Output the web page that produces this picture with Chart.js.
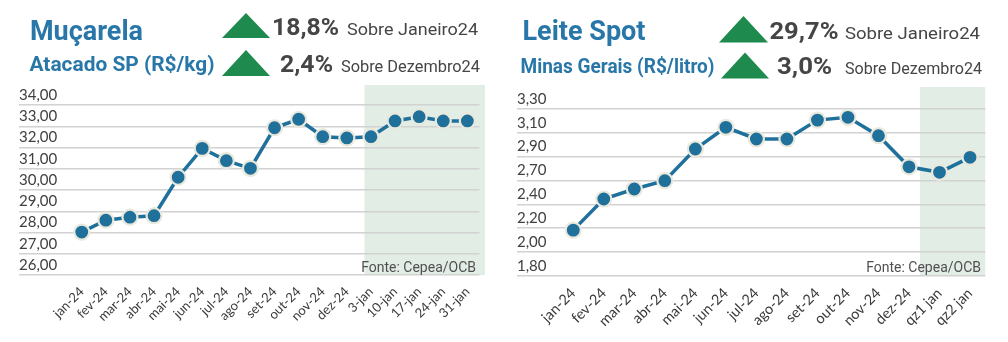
<!DOCTYPE html>
<html>
<head>
<meta charset="utf-8">
<script src="https://cdn.jsdelivr.net/npm/chart.js@4.4.1/dist/chart.umd.min.js"></script>
<style>
  body { margin: 0; background: #fff; }
  #wrap { position: relative; width: 1008px; height: 342px; overflow: hidden; }
  canvas { position: absolute; top: 0; }
  #head { position: absolute; left: 0; top: 0; z-index: 2; }
  .t1 { font: bold 27px Roboto; fill: #2877a8; }
  .t2 { font: bold 21px Roboto; fill: #2877a8; }
  .pct { font: bold 24px Roboto; fill: #454545; }
  .sob { font: 17px Roboto; fill: #454545; }
  .tri { fill: #1f8a4d; }
</style>
</head>
<body>
<div id="wrap">
  <canvas id="queijo" width="500" height="342" style="left:0"></canvas>
  <canvas id="leite" width="508" height="342" style="left:500px"></canvas>
  <svg id="head" width="1008" height="86">
    <text class="t1" x="30" y="40" textLength="113" lengthAdjust="spacingAndGlyphs">Muçarela</text>
    <polygon class="tri" points="222,38 246,13 270,38"/>
    <text class="pct" x="272" y="35" textLength="67" lengthAdjust="spacingAndGlyphs">18,8%</text>
    <text class="sob" x="347" y="35" textLength="131" lengthAdjust="spacingAndGlyphs">Sobre Janeiro24</text>
    <text class="t2" x="29.5" y="71" textLength="185" lengthAdjust="spacingAndGlyphs">Atacado SP (R$/kg)</text>
    <polygon class="tri" points="222,76 246,50 270,76"/>
    <text class="pct" x="280" y="71.5" textLength="53" lengthAdjust="spacingAndGlyphs">2,4%</text>
    <text class="sob" x="341" y="72" textLength="139" lengthAdjust="spacingAndGlyphs">Sobre Dezembro24</text>

    <text class="t1" x="522.5" y="39.5" textLength="123" lengthAdjust="spacingAndGlyphs">Leite Spot</text>
    <polygon class="tri" points="719,42.5 743.5,16 768,42.5"/>
    <text class="pct" x="769.5" y="38.5" textLength="69" lengthAdjust="spacingAndGlyphs">29,7%</text>
    <text class="sob" x="845" y="38.5" textLength="135" lengthAdjust="spacingAndGlyphs">Sobre Janeiro24</text>
    <text class="t2" x="520.5" y="73" textLength="194" lengthAdjust="spacingAndGlyphs">Minas Gerais (R$/litro)</text>
    <polygon class="tri" points="721,78.5 745,52.5 769,78.5"/>
    <text class="pct" x="777" y="74" textLength="55" lengthAdjust="spacingAndGlyphs">3,0%</text>
    <text class="sob" x="845" y="74" textLength="137" lengthAdjust="spacingAndGlyphs">Sobre Dezembro24</text>
  </svg>
</div>
<script>
// Muçarela - atacado SP (R$/kg)
const queijoLabels = ["jan-24", "fev-24", "mar-24", "abr-24", "mai-24", "jun-24", "jul-24", "ago-24",
  "set-24", "out-24", "nov-24", "dez-24", "3-jan", "10-jan", "17-jan", "24-jan", "31-jan"];
const queijoValues = [28.02, 28.58, 28.72, 28.79, 30.60, 31.96, 31.38, 31.02,
  32.93, 33.33, 32.51, 32.45, 32.51, 33.25, 33.45, 33.25, 33.25];
const queijoTicks = [26, 34, 1];   // min, max, step

// Leite spot - Minas Gerais (R$/litro)
const leiteLabels = ["jan-24", "fev-24", "mar-24", "abr-24", "mai-24", "jun-24", "jul-24", "ago-24",
  "set-24", "out-24", "nov-24", "dez-24", "qz1 jan", "qz2 jan"];
const leiteValues = [2.21, 2.49, 2.58, 2.655, 2.94, 3.135, 3.03, 3.03,
  3.20, 3.225, 3.06, 2.78, 2.73, 2.865];
const leiteTicks = [1.8, 3.3, 8];  // min, max, tick count

const BLUE = "#20709c";

// shaded band for the weekly / fortnightly points + source note
const bandPlugin = {
  id: "band",
  beforeDraw(chart, args, opts) {
    const { ctx, chartArea } = chart;
    const x = chart.scales.x;
    const step = x.getPixelForValue(1) - x.getPixelForValue(0);
    const left = x.getPixelForValue(opts.from) - step * opts.shift;
    ctx.save();
    ctx.fillStyle = "#e2ede6";
    ctx.fillRect(left, chartArea.top - opts.above, chartArea.right + opts.extra - left,
      chartArea.bottom - chartArea.top + opts.above);
    ctx.restore();
  },
  afterDraw(chart, args, opts) {
    const { ctx, chartArea } = chart;
    ctx.save();
    ctx.font = "14px Roboto";
    ctx.fillStyle = "#505050";
    ctx.textAlign = "right";
    ctx.textBaseline = "alphabetic";
    ctx.fillText("Fonte: Cepea/OCB", chartArea.right - opts.noteRight, chartArea.bottom - 3.5);
    ctx.restore();
  }
};

function makeChart(id, labels, values, y, box) {
  return new Chart(document.getElementById(id), {
    type: "line",
    data: {
      labels: labels,
      datasets: [{
        data: values,
        borderColor: BLUE,
        borderWidth: 3.5,
        pointRadius: 7.5,
        pointHoverRadius: 7.5,
        pointBackgroundColor: BLUE,
        pointBorderColor: "#e9e8dc",
        pointBorderWidth: 2.2,
        tension: 0
      }]
    },
    options: {
      responsive: false,
      animation: false,
      events: [],
      layout: { padding: { left: box.left, right: box.right, top: box.top, bottom: 0 } },
      plugins: {
        legend: { display: false },
        tooltip: { enabled: false },
        band: box.band
      },
      scales: {
        x: {
          offset: true,
          grid: { display: false, drawTicks: false },
          border: { display: false },
          ticks: {
            autoSkip: false,
            minRotation: 45,
            maxRotation: 45,
            padding: box.xPad,
            color: "#3a3a3a",
            font: { family: "Lato", size: box.xFont }
          },
          afterFit(s) { s.height = 342 - box.bottom; }
        },
        y: Object.assign({
          grid: { color: "#d2d2d2", lineWidth: 1.5, tickLength: box.axisW, drawTicks: true },
          border: { display: false },
          afterFit(s) { s.width = box.axisW; }
        }, y)
      }
    },
    plugins: [bandPlugin]
  });
}

makeChart("queijo", queijoLabels, queijoValues, {
  min: queijoTicks[0],
  max: queijoTicks[1],
  ticks: {
    stepSize: queijoTicks[2],
    crossAlign: "far",
    padding: 0,
    labelOffset: -10,
    color: "#404040",
    font: { family: "Lato", size: 15 },
    callback: v => v.toFixed(2).replace(".", ",")
  }
}, { left: 19, right: 20.6, top: 105, bottom: 275, axisW: 50.7, xPad: 9, xFont: 13,
     band: { from: 12, shift: 0.27, extra: 5.5, above: 20, noteRight: 3.4 } });

makeChart("leite", leiteLabels, leiteValues, {
  min: leiteTicks[0],
  max: leiteTicks[1],
  ticks: {
    count: leiteTicks[2],
    crossAlign: "far",
    padding: 0,
    labelOffset: -10,
    color: "#404040",
    font: { family: "Lato", size: 15 },
    // Excel shows one decimal then pads with a zero
    callback: v => v.toFixed(1).replace(".", ",") + "0"
  }
}, { left: 17, right: 22.7, top: 109, bottom: 275.7, axisW: 41, xPad: 9, xFont: 14.5,
     band: { from: 12, shift: 0.64, extra: 0, above: 22, noteRight: 4.3 } });
</script>
</body>
</html>
